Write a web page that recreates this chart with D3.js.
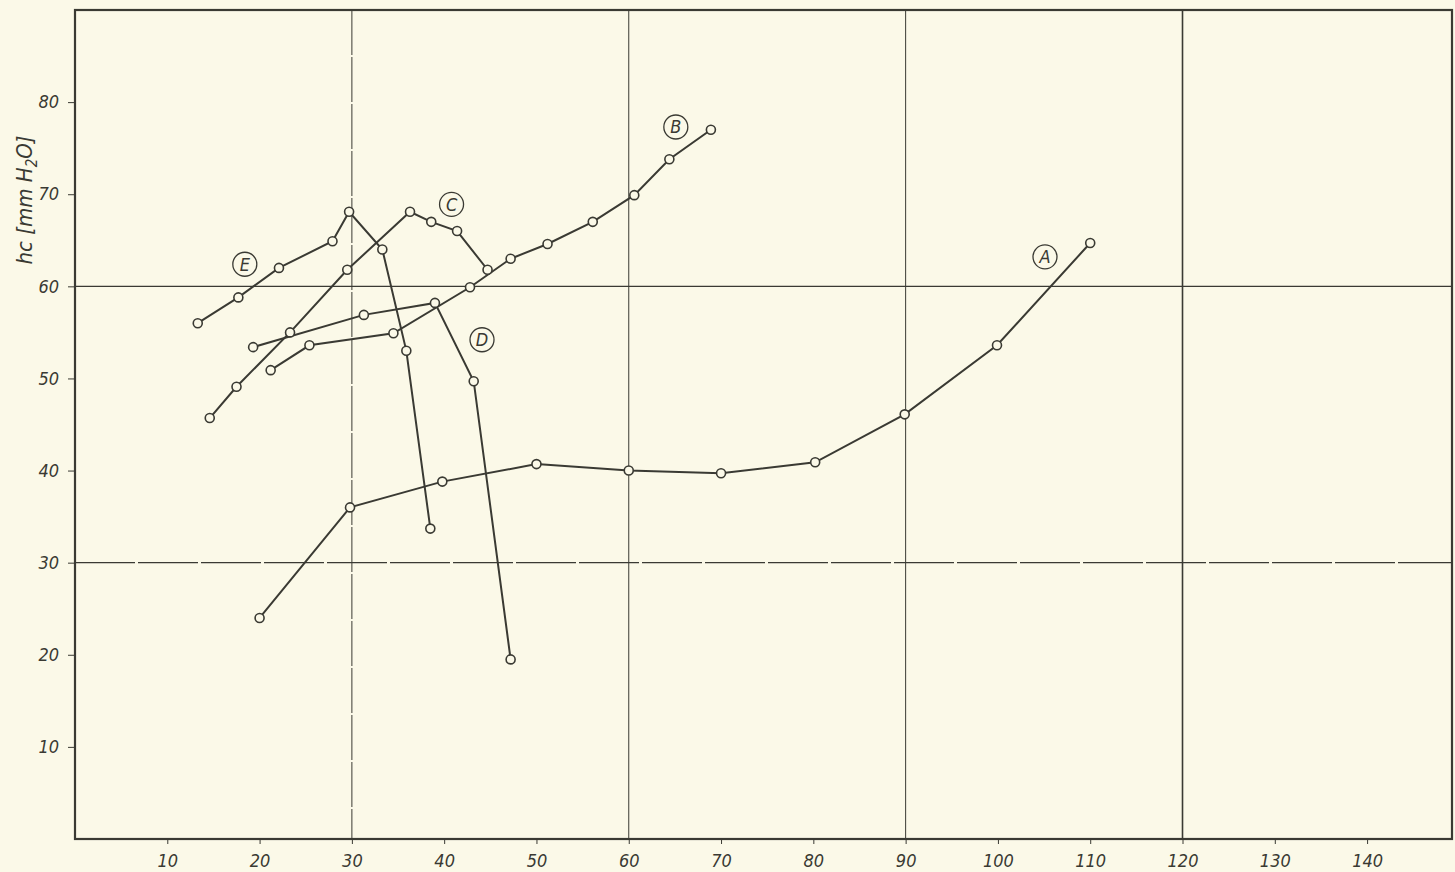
<!DOCTYPE html>
<html lang="en">
<head>
  <meta charset="UTF-8">
  <title>hc [mm H2O]</title>
  <style>
    body {
      margin: 0;
      background-color: #fbf9e8;
    }
    svg {
      display: block;
    }
    .tick-label {
      font-family: "Liberation Sans Narrow", "DejaVu Sans Condensed", sans-serif;
      font-style: italic;
      font-size: 18px;
      fill: #3a3a33;
    }
  </style>
</head>
<body>
  <svg width="1455" height="872"></svg>

  <script src="https://d3js.org/d3.v7.min.js"></script>
  <script>
    const width = 1455;
    const height = 872;
    const ink = "#3a3a33";

    // curve data
    const seriesA_x = [20, 29.8, 39.8, 50, 60, 70, 80.2, 89.9, 99.9, 110];
    const seriesA_y = [24, 36, 38.8, 40.7, 40, 39.7, 40.9, 46.1, 53.6, 64.7];
    const seriesB_x = [21.2, 25.4, 34.5, 42.8, 47.2, 51.2, 56.1, 60.6, 64.4, 68.9];
    const seriesB_y = [50.9, 53.6, 54.9, 59.9, 63, 64.6, 67, 69.9, 73.8, 77];
    const seriesC_x = [14.6, 17.5, 23.3, 29.5, 36.3, 38.6, 41.4, 44.7];
    const seriesC_y = [45.7, 49.1, 55, 61.8, 68.1, 67, 66, 61.8];
    const seriesD_x = [19.3, 31.3, 39, 43.2, 47.2];
    const seriesD_y = [53.4, 56.9, 58.2, 49.7, 19.5];
    const seriesE_x = [13.3, 17.7, 22.1, 27.9, 29.7, 33.3, 35.9, 38.5];
    const seriesE_y = [56, 58.8, 62, 64.9, 68.1, 64, 53, 33.7];

    const curveNames = ["A", "B", "C", "D", "E"];
    const labelX = [105.1, 65.1, 40.8, 44.1, 18.4];
    const labelY = [63.2, 77.3, 68.9, 54.2, 62.4];

    const xTicks = [10, 20, 30, 40, 50, 60, 70, 80, 90, 100, 110, 120, 130, 140];
    const yTicks = [10, 20, 30, 40, 50, 60, 70, 80];
    const xGrid = [30, 60, 90, 120];
    const yGrid = [30, 60];

    const series = [
      [seriesA_x, seriesA_y],
      [seriesB_x, seriesB_y],
      [seriesC_x, seriesC_y],
      [seriesD_x, seriesD_y],
      [seriesE_x, seriesE_y]
    ].map(([xs, ys]) => xs.map((x, i) => ({ x: x, y: ys[i] })));

    const x = d3.scaleLinear().domain([0, 149.2]).range([75, 1452]);
    const y = d3.scaleLinear().domain([0, 90]).range([839, 10]);

    const svg = d3.select("svg");

    svg.append("rect")
      .attr("width", width)
      .attr("height", height)
      .attr("fill", "#fbf9e8");

    // grid lines
    svg.selectAll(".vgrid")
      .data(xGrid)
      .enter()
      .append("line")
      .attr("class", "vgrid")
      .attr("x1", d => x(d)).attr("x2", d => x(d))
      .attr("y1", y(90)).attr("y2", y(0))
      .attr("stroke", ink)
      .attr("stroke-width", d => d === 120 ? 1.6 : 1)
      .attr("stroke-dasharray", d => d === 30 ? "45,2" : null);

    svg.selectAll(".hgrid")
      .data(yGrid)
      .enter()
      .append("line")
      .attr("class", "hgrid")
      .attr("x1", x(0)).attr("x2", x(149.2))
      .attr("y1", d => y(d)).attr("y2", d => y(d))
      .attr("stroke", ink)
      .attr("stroke-width", 1.1)
      .attr("stroke-dasharray", d => d === 30 ? "60,3" : null);

    // frame
    svg.append("rect")
      .attr("x", x(0))
      .attr("y", y(90))
      .attr("width", x(149.2) - x(0))
      .attr("height", y(0) - y(90))
      .attr("fill", "none")
      .attr("stroke", ink)
      .attr("stroke-width", 2.2);

    // axes
    const xAxis = d3.axisBottom(x)
      .tickValues(xTicks)
      .tickSize(5)
      .tickPadding(10);
    const gx = svg.append("g")
      .attr("transform", "translate(0," + y(0) + ")")
      .call(xAxis);
    gx.select(".domain").remove();
    gx.selectAll("line").attr("stroke", ink);
    gx.selectAll("text").attr("class", "tick-label").attr("fill", ink);

    const yAxis = d3.axisLeft(y)
      .tickValues(yTicks)
      .tickSize(7)
      .tickPadding(9);
    const gy = svg.append("g")
      .attr("transform", "translate(" + x(0) + ",0)")
      .call(yAxis);
    gy.select(".domain").remove();
    gy.selectAll("line").attr("stroke", ink);
    gy.selectAll("text").attr("class", "tick-label").attr("fill", ink);

    // y axis title
    const yTitle = svg.append("text")
      .attr("transform", "translate(32,200) rotate(-90)")
      .attr("text-anchor", "middle")
      .style("font-family", "'Liberation Sans Narrow', 'DejaVu Sans Condensed', sans-serif")
      .style("font-style", "italic")
      .style("font-size", "22px")
      .attr("fill", ink);
    yTitle.append("tspan").text("hc [mm H");
    yTitle.append("tspan").attr("dy", 5).style("font-size", "15px").text("2");
    yTitle.append("tspan").attr("dy", -5).text("O]");

    // curves
    const line = d3.line()
      .x(d => x(d.x))
      .y(d => y(d.y));

    svg.selectAll(".curve")
      .data(series)
      .enter()
      .append("path")
      .attr("class", "curve")
      .attr("d", line)
      .attr("fill", "none")
      .attr("stroke", ink)
      .attr("stroke-width", 2);

    series.forEach(pts => {
      svg.append("g")
        .selectAll("circle")
        .data(pts)
        .enter()
        .append("circle")
        .attr("cx", d => x(d.x))
        .attr("cy", d => y(d.y))
        .attr("r", 4.5)
        .attr("fill", "#fbf9e8")
        .attr("stroke", ink)
        .attr("stroke-width", 1.6);
    });

    // circled curve labels
    const labels = svg.selectAll(".curve-label")
      .data(curveNames)
      .enter()
      .append("g")
      .attr("class", "curve-label")
      .attr("transform", (d, i) => "translate(" + x(labelX[i]) + "," + y(labelY[i]) + ")");

    labels.append("circle")
      .attr("r", 12)
      .attr("fill", "none")
      .attr("stroke", ink)
      .attr("stroke-width", 1.3);

    labels.append("text")
      .attr("text-anchor", "middle")
      .attr("dy", 6.5)
      .style("font-family", "'Liberation Sans Narrow', 'DejaVu Sans Condensed', sans-serif")
      .style("font-style", "italic")
      .style("font-size", "18px")
      .attr("fill", ink)
      .text(d => d);
  </script>
</body>
</html>
